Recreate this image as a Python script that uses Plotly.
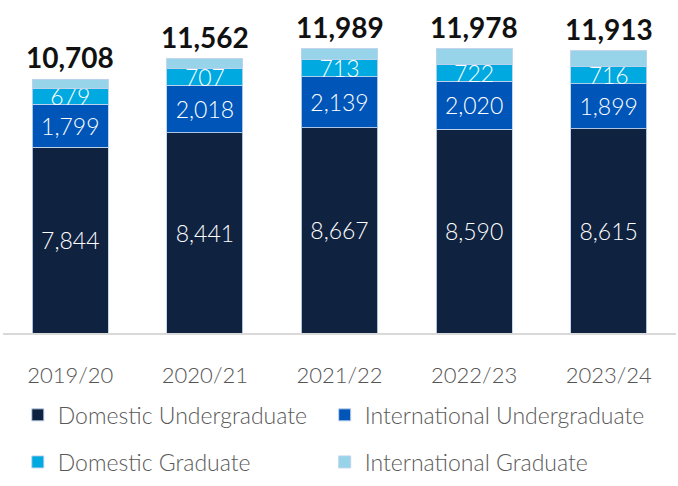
import plotly.graph_objects as go

years = ["2019/20", "2020/21", "2021/22", "2022/23", "2023/24"]
dom_ug = [7844, 8441, 8667, 8590, 8615]
int_ug = [1799, 2018, 2139, 2020, 1899]
dom_gr = [679, 707, 713, 722, 716]
int_gr = [386, 396, 470, 646, 683]
totals = [10708, 11562, 11989, 11978, 11913]

series = [
    ("Domestic Undergraduate", dom_ug, "#0F2240", True, "legend"),
    ("International Undergraduate", int_ug, "#0055B8", True, "legend2"),
    ("Domestic Graduate", dom_gr, "#00A9E0", True, "legend3"),
    ("International Graduate", int_gr, "#97D4E9", False, "legend4"),
]

FONT = "Lato"
fig = go.Figure()
for name, vals, col, lab, leg in series:
    fig.add_trace(go.Bar(
        x=years, y=vals, name=name, legend=leg,
        marker=dict(color=col, line=dict(color="rgba(190,210,235,0.9)", width=1)),
        text=[f"{v:,}" for v in vals] if lab else None,
        textposition="inside" if lab else "none",
        insidetextanchor="middle",
        textfont=dict(color="white", size=23, family=FONT, weight=300),
        hoverinfo="skip",
    ))

for yr, t in zip(years, totals):
    fig.add_annotation(x=yr, y=t, text=f"{t:,}", showarrow=False,
                       yanchor="bottom", yshift=3,
                       font=dict(size=28, color="#111111", family=FONT, weight=700))

legfont = dict(size=23, color="#595959", family=FONT, weight=300)
def leg(x, y):
    return dict(orientation="h", x=x, xanchor="left", y=y, yanchor="middle",
                font=legfont, itemclick=False, itemdoubleclick=False)

fig.update_layout(
    barmode="stack",
    bargap=0.435,
    width=678, height=486,
    margin=dict(l=3, r=2, t=13, b=153),
    plot_bgcolor="white", paper_bgcolor="white",
    uniformtext=dict(minsize=22, mode="show"),
    showlegend=True,
    legend=leg(0.022, -0.256),
    legend2=leg(0.478, -0.256),
    legend3=leg(0.022, -0.403),
    legend4=leg(0.478, -0.403),
    xaxis=dict(showline=True, linecolor="#D9D9D9", linewidth=2, ticks="",
               tickfont=dict(size=22, color="#555555", family=FONT, weight=300),
               ticklabelstandoff=22),
    yaxis=dict(range=[0, 13496], visible=False, showgrid=False),
)
fig.write_html("out.html", config={"displayModeBar": False},
               post_script="document.body.style.margin='0px';")
